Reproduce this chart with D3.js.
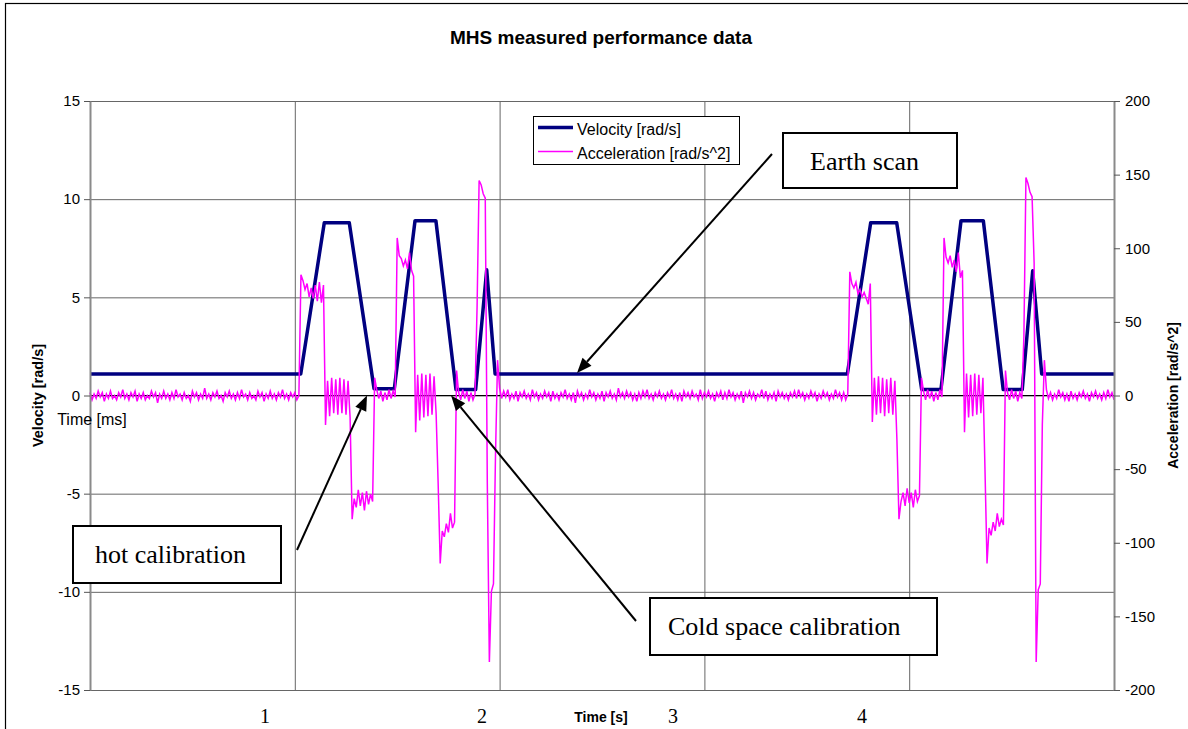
<!DOCTYPE html>
<meta charset="utf-8">
<style>

	body {
		margin: 0;
		background: #fff;
	}

	svg text {
		font-family: "Liberation Sans", Arial, sans-serif;
		fill: #000;
	}

	svg text.serif {
		font-family: "Liberation Serif", "Times New Roman", serif;
	}

</style>
<script src="https://d3js.org/d3.v7.min.js"></script>
<svg id="chart" width="1188" height="729"></svg>
<script>

	// velocity breakpoints [time, rad/s]
	var velTime = [0, 1.029, 1.144, 1.266, 1.387, 1.486, 1.587, 1.689, 1.787, 1.883, 1.937, 1.978,
		3.698, 3.812, 3.939, 4.061, 4.155, 4.253, 4.362, 4.459, 4.552, 4.603, 4.647, 5];
	var velValue = [1.1, 1.1, 8.8, 8.8, 0.35, 0.35, 8.9, 8.9, 0.3, 0.3, 6.4, 1.1,
		1.1, 8.8, 8.8, 0.3, 0.3, 8.9, 8.9, 0.3, 0.3, 6.35, 1.1, 1.1];

	// acceleration samples (rad/s^2), one every sampleStep, per segment
	var sampleStep = 0.01;
	var accStart = [0, 1.00, 2.01, 3.68, 4.69];

	var accBase1 = [
		2,-3,1,-2,3,-1,2,-4,1,-2, 3,-2,0,-3,2,-1,4,-2,1,-3,
		2,-1,3,-4,1,-2,2,-3,0,-2, 3,-1,2,-5,1,-2,3,-2,1,-3,
		2,-2,4,-1,1,-3,2,-2,0,-4, 3,-1,2,-3,1,-2,5,-2,1,-3,
		2,-1,3,-2,0,-4,2,-1,3,-2, 1,-3,2,-2,4,-1,1,-3,2,-2,
		0,-3,3,-1,2,-4,1,-2,3,-2, 1,-3,2,-1,4,-2,1,-3,2,-1];

	var accScan1 = [
		2,-3,0,82,78,72,76,67,73,66,
		75,64,77,63,75,-20,10,-14,12,-12,
		11,-13,12,-12,11,-13,10,-15,-84,-70,
		-76,-64,-75,-66,-78,-65,-74,-67,-72,12,
		4,-2,3,-4,2,-3,4,-2,3,-1,
		107,95,93,88,92,86,97,85,81,-25,
		14,-17,15,-15,14,-14,15,-13,13,-12,
		-60,-114,-92,-96,-87,-93,-80,-90,-86,17,
		2,-3,4,-2,3,-4,2,-3,1,60,
		146,143,137,134,-60,-181,-133,-128,-40,24,5];

	var accBase2 = [
		-2,3,-1,4,-3,1,-2,3,-4,2, -1,3,-2,1,-3,4,-1,2,-3,1,
		-2,3,-1,2,-4,3,-2,1,-3,2, -1,4,-2,1,-3,2,-5,3,-1,2,
		-3,1,-2,4,-1,2,-3,1,-2,3, -4,2,-1,3,-2,1,-3,5,-1,2,
		-2,3,-1,2,-3,1,-4,2,-2,3, -1,4,-2,1,-3,2,-1,3,-2,1,
		-3,2,-1,4,-2,1,-3,2,-4,3, -1,2,-2,3,-1,1,-3,4,-2,2,
		-1,3,-2,1,-4,2,-1,3,-3,2, -2,4,-1,2,-3,1,-2,3,-5,2,
		-1,3,-2,2,-3,1,-1,4,-2,3, -3,1,-2,2,-4,3,-1,2,-2,1,
		-3,2,-1,3,-2,4,-1,2,-3,1, -2,3,-1,2,-4,1,-2,3,-1,2,
		-3,1,-2,4,-1,2,-3];

	var accScan2 = [
		2,-3,1,84,76,73,77,69,72,67,
		70,66,62,76,-18,12,-13,13,-12,12,
		-14,11,-12,12,-13,10,-30,-84,-72,-66,
		-75,-63,-73,-66,-76,-64,-72,-68,12,3,
		-3,4,-2,3,-4,2,-3,4,-1,107,
		94,90,95,87,92,84,97,80,85,-25,
		15,-15,14,-14,15,-13,14,-12,12,-50,
		-114,-90,-95,-86,-92,-80,-89,-84,-88,17,
		2,-3,4,-2,3,-4,2,-2,40,148,
		144,138,135,90,-181,-132,-128,-20,24,4,-2];

	var accBase3 = [
		2,-3,1,-2,4,-1,2,-3,1,-4, 3,-2,1,-3,2,-1,3,-2,1,-4,
		2,-1,3,-2,1,-3,2,-2,4,-1, 2,-3];

	var velTicks = [-15, -10, -5, 0, 5, 10, 15];
	var accTicks = [-200, -150, -100, -50, 0, 50, 100, 150, 200];
	var timeGrid = [1, 2, 3, 4];
	var timeLabels = ["1", "2", "3", "4"];
	var timeLabelAt = [0.855, 1.914, 2.847, 3.77];

	var seriesNames = ["Velocity [rad/s]", "Acceleration [rad/s^2]"];

	// build series
	var velocity = velTime.map(function(t, i) { return {t: t, v: velValue[i]}; });

	var acceleration = [];
	[accBase1, accScan1, accBase2, accScan2, accBase3].forEach(function(seg, k) {
		seg.forEach(function(a, i) {
			acceleration.push({t: accStart[k] + i * sampleStep, a: a});
		});
	});

	var plotLeft = 90, plotRight = 1114, plotTop = 101, plotBottom = 690;

	var x = d3.scaleLinear().domain([0, 5]).range([plotLeft, plotRight]);
	var yV = d3.scaleLinear().domain([-15, 15]).range([plotBottom, plotTop]);
	var yA = d3.scaleLinear().domain([-200, 200]).range([plotBottom, plotTop]);

	var svg = d3.select("#chart");

	// chart area border (runs off the right / bottom like the original)
	svg.append("rect")
		.attr("x", 5.5).attr("y", 3.5)
		.attr("width", 1200).attr("height", 760)
		.attr("fill", "#fff")
		.attr("stroke", "#000")
		.attr("stroke-width", 1.2);

	// gridlines
	svg.append("g")
		.attr("transform", "translate(" + plotLeft + ",0)")
		.call(d3.axisLeft(yV).tickValues(velTicks).tickSize(-(plotRight - plotLeft)).tickFormat(""))
		.call(function(g) {
			g.select(".domain").remove();
			g.selectAll("line").attr("stroke", "#666").attr("stroke-width", 1);
		});

	svg.append("g")
		.attr("transform", "translate(0," + plotBottom + ")")
		.call(d3.axisBottom(x).tickValues(timeGrid).tickSize(-(plotBottom - plotTop)).tickFormat(""))
		.call(function(g) {
			g.select(".domain").remove();
			g.selectAll("line").attr("stroke", "#666").attr("stroke-width", 1);
		});

	// category axis at zero
	svg.append("line")
		.attr("x1", plotLeft).attr("x2", plotRight)
		.attr("y1", yV(0)).attr("y2", yV(0))
		.attr("stroke", "#000")
		.attr("stroke-width", 1.2);

	// series
	var velLine = d3.line()
		.x(function(d) { return x(d.t); })
		.y(function(d) { return yV(d.v); });

	var accLine = d3.line()
		.x(function(d) { return x(d.t); })
		.y(function(d) { return yA(d.a); });

	svg.append("path")
		.datum(velocity)
		.attr("d", velLine)
		.attr("fill", "none")
		.attr("stroke", "#000080")
		.attr("stroke-width", 3.5)
		.attr("stroke-linejoin", "round");

	svg.append("path")
		.datum(acceleration)
		.attr("d", accLine)
		.attr("fill", "none")
		.attr("stroke", "#ff00ff")
		.attr("stroke-width", 1.5);

	// axes
	function styleAxis(g) {
		g.select(".domain").attr("stroke", "#8a8a8a").attr("stroke-width", 2);
		g.selectAll(".tick line").attr("stroke", "#555");
		g.selectAll(".tick text").style("font-size", "15px");
	}

	svg.append("g")
		.attr("transform", "translate(" + plotLeft + ",0)")
		.call(d3.axisLeft(yV).tickValues(velTicks).tickSize(6).tickSizeOuter(0).tickPadding(4)
			.tickFormat(function(d) { return String(d); }))
		.call(styleAxis);

	svg.append("g")
		.attr("transform", "translate(" + plotRight + ",0)")
		.call(d3.axisRight(yA).tickValues(accTicks).tickSize(6).tickSizeOuter(0).tickPadding(5)
			.tickFormat(function(d) { return String(d); }))
		.call(styleAxis);

	// titles
	svg.append("text")
		.attr("x", 601).attr("y", 44)
		.attr("text-anchor", "middle")
		.style("font-size", "19px")
		.style("font-weight", "bold")
		.text("MHS measured performance data");

	svg.append("text")
		.attr("transform", "translate(43," + yV(0) + ") rotate(-90)")
		.attr("text-anchor", "middle")
		.style("font-size", "14.5px")
		.style("font-weight", "bold")
		.text("Velocity [rad/s]");

	svg.append("text")
		.attr("transform", "translate(1178," + yV(0) + ") rotate(-90)")
		.attr("text-anchor", "middle")
		.style("font-size", "14px")
		.style("font-weight", "bold")
		.text("Acceleration [rad/s^2]");

	svg.append("text")
		.attr("x", 92).attr("y", 425)
		.attr("text-anchor", "middle")
		.style("font-size", "16px")
		.text("Time [ms]");

	svg.append("text")
		.attr("x", 601).attr("y", 722)
		.attr("text-anchor", "middle")
		.style("font-size", "14px")
		.style("font-weight", "bold")
		.text("Time [s]");

	svg.selectAll("text.tlabel")
		.data(timeLabels)
		.enter().append("text")
		.attr("class", "tlabel serif")
		.attr("x", function(d, i) { return x(timeLabelAt[i]); })
		.attr("y", 723)
		.attr("text-anchor", "middle")
		.style("font-size", "20px")
		.text(function(d) { return d; });

	// legend
	var legend = svg.append("g");
	legend.append("rect")
		.attr("x", 533.5).attr("y", 116.5)
		.attr("width", 206).attr("height", 48)
		.attr("fill", "#fff")
		.attr("stroke", "#000");

	var legendColors = ["#000080", "#ff00ff"];
	var legendWidths = [3.5, 1.5];
	seriesNames.forEach(function(name, i) {
		var ly = 127.5 + i * 24;
		legend.append("line")
			.attr("x1", 538).attr("x2", 573)
			.attr("y1", ly).attr("y2", ly)
			.attr("stroke", legendColors[i])
			.attr("stroke-width", legendWidths[i]);
		legend.append("text")
			.attr("x", 577).attr("y", ly + 7)
			.style("font-size", "16px")
			.text(name);
	});

	// callouts
	var notes = [
		{text: "Earth scan", box: [783, 133, 174, 55], tx: 810, ty: 170, from: [772, 154], tip: [2.378, 1.15]},
		{text: "hot calibration", box: [73, 526, 208, 57], tx: 95, ty: 563, from: [297, 550], tip: [1.3525, 0]},
		{text: "Cold space calibration", box: [650, 598, 287, 57], tx: 668, ty: 635, from: [636, 621], tip: [1.763, 0]}
	];

	notes.forEach(function(n) {
		var tx = x(n.tip[0]), ty = yV(n.tip[1]);
		var dx = tx - n.from[0], dy = ty - n.from[1];
		var len = Math.sqrt(dx * dx + dy * dy);
		var ux = dx / len, uy = dy / len;
		var head = 15, half = 6;
		var bx = tx - ux * head, by = ty - uy * head;

		svg.append("line")
			.attr("x1", n.from[0]).attr("y1", n.from[1])
			.attr("x2", bx).attr("y2", by)
			.attr("stroke", "#000")
			.attr("stroke-width", 2);

		svg.append("polygon")
			.attr("points", [
				[tx, ty],
				[bx - uy * half, by + ux * half],
				[bx + uy * half, by - ux * half]
			].map(function(p) { return p.join(","); }).join(" "))
			.attr("fill", "#000");

		svg.append("rect")
			.attr("x", n.box[0]).attr("y", n.box[1])
			.attr("width", n.box[2]).attr("height", n.box[3])
			.attr("fill", "#fff")
			.attr("stroke", "#000")
			.attr("stroke-width", 2);

		svg.append("text")
			.attr("class", "serif")
			.attr("x", n.tx).attr("y", n.ty)
			.style("font-size", "26px")
			.text(n.text);
	});

</script>
